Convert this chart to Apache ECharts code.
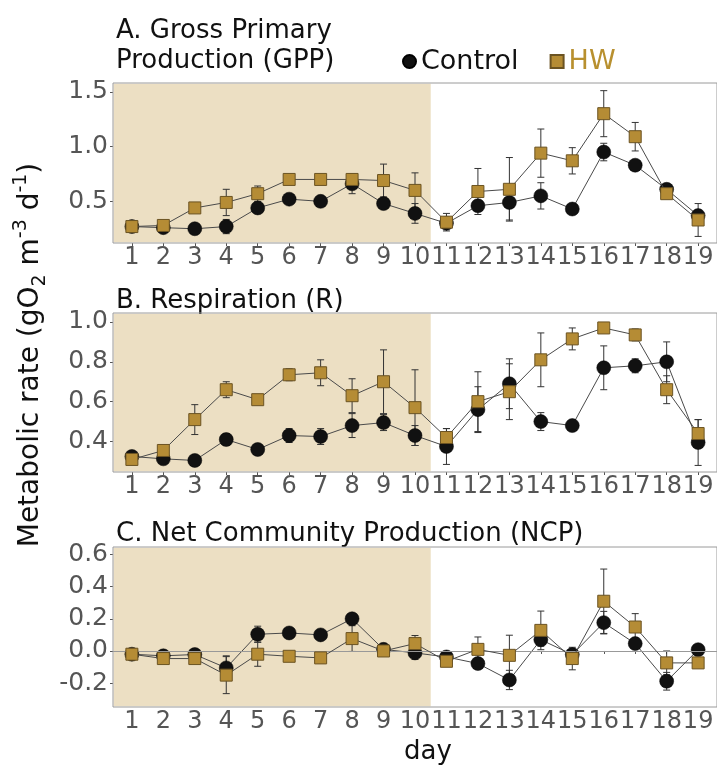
<!DOCTYPE html>
<html><head><meta charset="utf-8">
<script src="https://cdn.jsdelivr.net/npm/echarts@6/dist/echarts.min.js"></script>
<style>html,body{margin:0;padding:0;background:#fff}#c{width:717px;height:766px}</style>
</head><body><div id="c"></div>
<script>
// ---- data ----
const days = [1,2,3,4,5,6,7,8,9,10,11,12,13,14,15,16,17,18,19];
const xTicks = [1,2,3,4,5,6,7,8,9,10,11,12,13,14,15,16,17,18,19];

const gppControl   = [0.27,0.26,0.25,0.27,0.44,0.52,0.50,0.66,0.48,0.39,0.30,0.46,0.49,0.55,0.43,0.95,0.83,0.61,0.37];
const gppControlSE = [0.02,0.02,0.02,0.065,0.04,0.03,0.03,0.09,0.04,0.09,0.04,0.05,0.16,0.12,0.01,0.08,0.04,0.03,0.05];
const gppHW        = [0.27,0.28,0.44,0.49,0.57,0.70,0.70,0.70,0.69,0.60,0.31,0.59,0.61,0.94,0.87,1.30,1.09,0.57,0.33];
const gppHWSE      = [0.02,0.02,0.04,0.12,0.07,0.03,0.02,0.04,0.15,0.16,0.08,0.21,0.29,0.22,0.12,0.21,0.13,0.02,0.15];

const rControl   = [0.325,0.313,0.305,0.41,0.36,0.43,0.425,0.48,0.495,0.43,0.375,0.56,0.69,0.50,0.48,0.77,0.78,0.80,0.395];
const rControlSE = [0.01,0.01,0.01,0.03,0.02,0.035,0.04,0.06,0.04,0.05,0.09,0.115,0.125,0.045,0.01,0.11,0.035,0.10,0.115];
const rHW        = [0.31,0.355,0.51,0.66,0.61,0.735,0.745,0.63,0.70,0.57,0.42,0.60,0.65,0.81,0.915,0.97,0.935,0.66,0.44];
const rHWSE      = [0.01,0.02,0.075,0.04,0.025,0.03,0.065,0.085,0.16,0.19,0.045,0.15,0.14,0.135,0.055,0.02,0.03,0.07,0.07];

const ncpControl   = [-0.02,-0.03,-0.022,-0.105,0.104,0.112,0.10,0.20,0.01,-0.012,-0.037,-0.078,-0.18,0.07,-0.022,0.176,0.046,-0.188,0.008];
const ncpControlSE = [0.01,0.01,0.01,0.075,0.05,0.01,0.01,0.02,0.01,0.04,0.02,0.01,0.06,0.04,0.02,0.07,0.01,0.055,0.02];
const ncpHW        = [-0.02,-0.047,-0.047,-0.15,-0.02,-0.033,-0.043,0.077,0.0,0.046,-0.064,0.01,-0.027,0.128,-0.047,0.309,0.149,-0.074,-0.074];
const ncpHWSE      = [0.01,0.01,0.01,0.115,0.075,0.01,0.03,0.08,0.01,0.05,0.01,0.077,0.125,0.12,0.07,0.2,0.083,0.074,0.01];

const gppTicks = [0.5,1.0,1.5];
const rTicks   = [0.4,0.6,0.8,1.0];
const ncpTicks = [-0.2,0.0,0.2,0.4,0.6];

const heatwaveEnd = 10.5;
const panelTitles = ['A. Gross Primary\nProduction (GPP)','B. Respiration (R)','C. Net Community Production (NCP)'];
const seriesNames = ['Control','HW'];

// ---- style ----
const FONT = "'DejaVu Sans', Verdana, sans-serif";
const HWCOL = '#b58c35';
const SHADE = '#ecdfc3';
const panels = [
  {c:gppControl, cse:gppControlSE, h:gppHW, hse:gppHWSE, ticks:gppTicks, min:0.12, max:1.58, top:83, height:160, zero:false},
  {c:rControl, cse:rControlSE, h:rHW, hse:rHWSE, ticks:rTicks, min:0.247, max:1.045, top:313, height:159, zero:false},
  {c:ncpControl, cse:ncpControlSE, h:ncpHW, hse:ncpHWSE, ticks:ncpTicks, min:-0.348, max:0.646, top:547, height:160, zero:true}
];

const grids=[], xAxes=[], yAxes=[], series=[];
function errRender(params, api){
  const x=api.value(0), lo=api.value(1), hi=api.value(2);
  const a=api.coord([x,lo]), b=api.coord([x,hi]);
  const w=3.5;
  const st={stroke:'#333', lineWidth:1};
  return {type:'group', children:[
    {type:'line', shape:{x1:a[0],y1:a[1],x2:b[0],y2:b[1]}, style:st},
    {type:'line', shape:{x1:a[0]-w,y1:a[1],x2:a[0]+w,y2:a[1]}, style:st},
    {type:'line', shape:{x1:b[0]-w,y1:b[1],x2:b[0]+w,y2:b[1]}, style:st}
  ]};
}
panels.forEach((p,i)=>{
  grids.push({left:113, top:p.top, width:604, height:p.height, show:true, borderColor:'#9a9a9a', borderWidth:1, backgroundColor:'transparent', z:10});
  xAxes.push({type:'value', gridIndex:i, min:0.4, max:19.6,
    axisLine:{show:false}, splitLine:{show:false},
    axisTick:{show:true, length:3, lineStyle:{color:'#555'}, customValues:xTicks},
    axisLabel:{customValues:xTicks, margin:3, color:'#555', fontSize:24, fontFamily:FONT,
      hideOverlap:false, formatter:v=>String(Math.round(v))}
  });
  yAxes.push({type:'value', gridIndex:i, min:p.min, max:p.max,
    axisLine:{show:false}, splitLine:{show:false},
    axisTick:{show:true, length:3, lineStyle:{color:'#555'}, customValues:p.ticks},
    axisLabel:{customValues:p.ticks, margin:5, color:'#555', fontSize:25, fontFamily:FONT, formatter:v=>v.toFixed(1)}
  });
  const eps=(p.max-p.min)*0.004;
  const bg={type:'line', xAxisIndex:i, yAxisIndex:i, data:[], z:1, silent:true,
    markArea:{silent:true, itemStyle:{color:SHADE}, data:[[{coord:[0.42, p.min+eps]},{coord:[heatwaveEnd, p.max-eps]}]]}
  };
  if(p.zero){
    bg.markLine={silent:true, symbol:'none', label:{show:false}, lineStyle:{color:'#999', type:'solid', width:1.2}, data:[{yAxis:0}]};
  }
  series.push(bg);
  series.push({type:'custom', name:'errC'+i, xAxisIndex:i, yAxisIndex:i, z:3, renderItem:errRender,
    encode:{x:0,y:[1,2]}, data:days.map((d,k)=>[d, p.c[k]-p.cse[k], p.c[k]+p.cse[k]])});
  series.push({type:'custom', name:'errH'+i, xAxisIndex:i, yAxisIndex:i, z:3, renderItem:errRender,
    encode:{x:0,y:[1,2]}, data:days.map((d,k)=>[d, p.h[k]-p.hse[k], p.h[k]+p.hse[k]])});
  series.push({type:'line', name:seriesNames[0], xAxisIndex:i, yAxisIndex:i, z:4,
    data:days.map((d,k)=>[d,p.c[k]]), symbol:'circle', symbolSize:14,
    lineStyle:{color:'#4a4a4a', width:1}, itemStyle:{color:'#111', borderColor:'#000', borderWidth:0.5}, emphasis:{disabled:true}});
  series.push({type:'line', name:seriesNames[1], xAxisIndex:i, yAxisIndex:i, z:5,
    data:days.map((d,k)=>[d,p.h[k]]), symbol:'rect', symbolSize:12,
    lineStyle:{color:'#4a4a4a', width:1}, itemStyle:{color:HWCOL, borderColor:'#6b5322', borderWidth:1}, emphasis:{disabled:true}});
});

const chart = echarts.init(document.getElementById('c'), null, {renderer:'canvas'});
chart.setOption({
  animation:false,
  backgroundColor:'#fff',
  title:[
    {text:panelTitles[0], left:111, top:11, textStyle:{fontFamily:FONT, fontSize:26, fontWeight:'normal', color:'#111', lineHeight:30}},
    {text:panelTitles[1], left:111, top:281, textStyle:{fontFamily:FONT, fontSize:26, fontWeight:'normal', color:'#111', lineHeight:30}},
    {text:panelTitles[2], left:111, top:514, textStyle:{fontFamily:FONT, fontSize:26, fontWeight:'normal', color:'#111', lineHeight:30}}
  ],
  legend:{left:397, top:43, itemWidth:13, itemHeight:13, itemGap:31,
    textStyle:{fontFamily:FONT, fontSize:27, color:'#111'},
    data:[{name:'Control', icon:'circle'}, {name:'HW', icon:'rect', textStyle:{color:'#b8902f'}}]},
  grid:grids, xAxis:xAxes, yAxis:yAxes, series:series,
  graphic:[
    {type:'text', x:31, y:355, rotation:Math.PI/2, style:{
      text:'{n|Metabolic rate (gO}{sub|2}{n| m}{sup|-3}{n| d}{sup|-1}{n|)}',
      fontFamily:FONT, fontSize:28, fill:'#111', align:'center', verticalAlign:'middle',
      rich:{
        n:{fontFamily:FONT, fontSize:28, fill:'#111', lineHeight:38},
        sub:{fontFamily:FONT, fontSize:19, fill:'#111', lineHeight:12, verticalAlign:'bottom'},
        sup:{fontFamily:FONT, fontSize:19, fill:'#111', lineHeight:23, verticalAlign:'top'}
      }}},
    {type:'text', x:428, y:752, style:{text:'day', fontFamily:FONT, fontSize:26, fill:'#111', align:'center', verticalAlign:'middle'}}
  ]
});
</script></body></html>
